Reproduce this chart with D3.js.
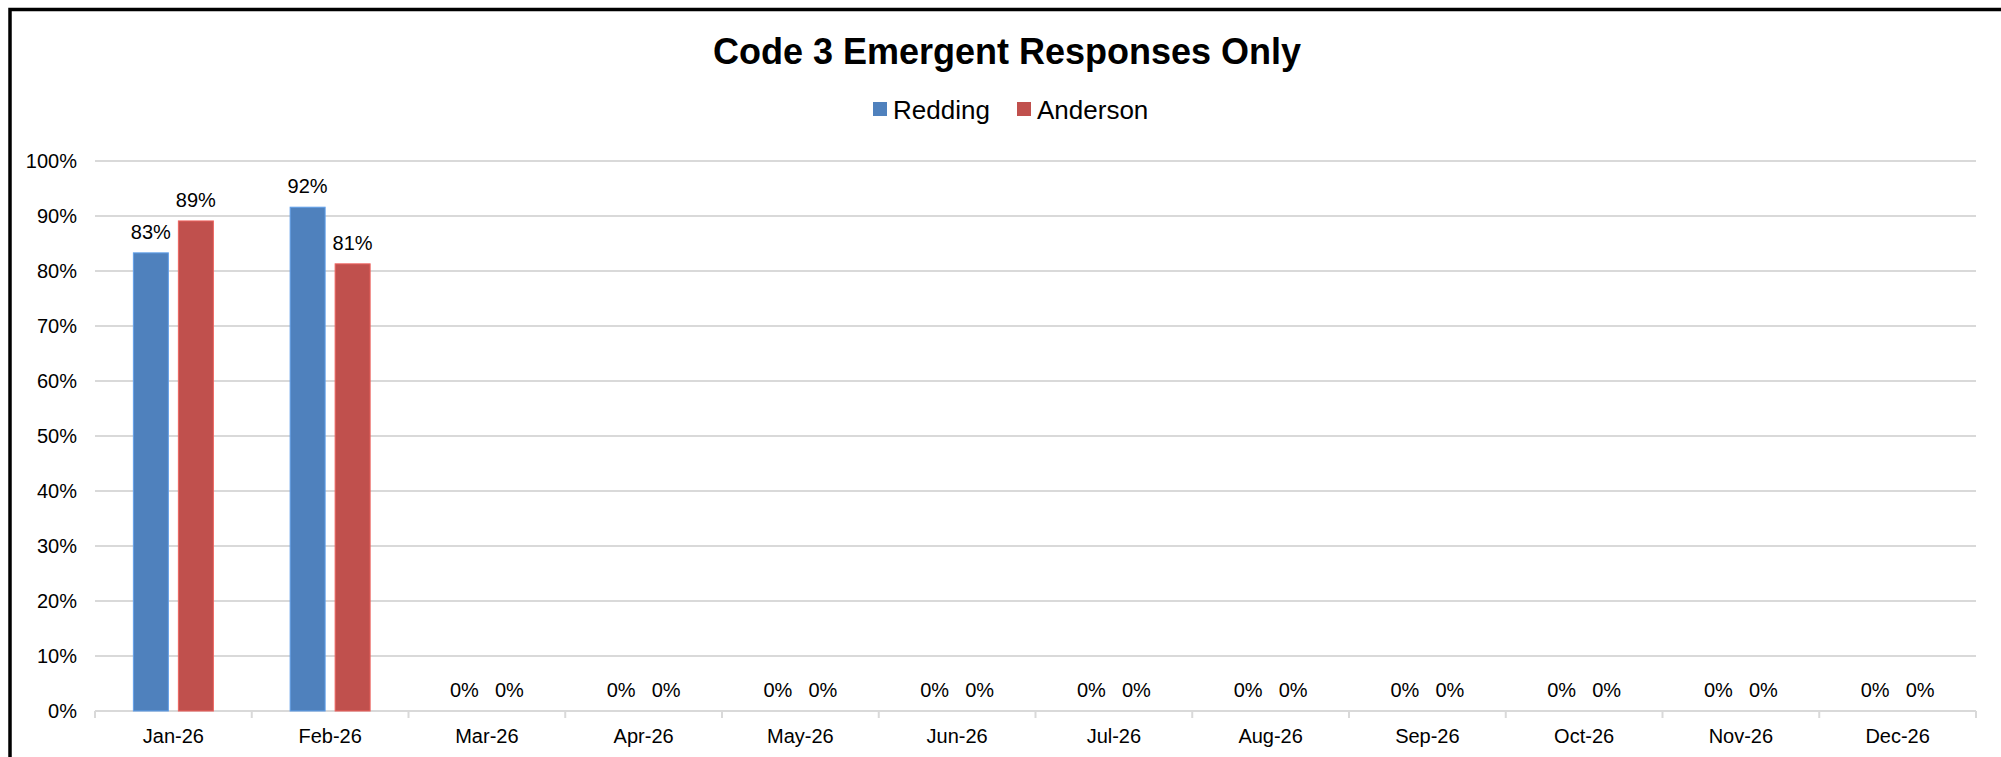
<!DOCTYPE html>
<html>
<head>
<meta charset="utf-8">
<script src="https://cdn.jsdelivr.net/npm/d3@7"></script>
<style>
  html, body { margin: 0; padding: 0; background: #fff; overflow: hidden; }
  text { font-family: "Liberation Sans", Arial, sans-serif; fill: #000; }
</style>
</head>
<body>
<div id="chart"></div>
<script>
const months = ['Jan-26', 'Feb-26', 'Mar-26', 'Apr-26', 'May-26', 'Jun-26',
  'Jul-26', 'Aug-26', 'Sep-26', 'Oct-26', 'Nov-26', 'Dec-26']
const seriesNames = ['Redding', 'Anderson']
const redding = [0.833, 0.916, 0, 0, 0, 0, 0, 0, 0, 0, 0, 0]
const anderson = [0.891, 0.813, 0, 0, 0, 0, 0, 0, 0, 0, 0, 0]
const yTicks = [0, 0.1, 0.2, 0.3, 0.4, 0.5, 0.6, 0.7, 0.8, 0.9, 1]
const colors = { Redding: '#4F81BD', Anderson: '#C0504D' }

const width = 2001
const height = 757

const svg = d3.select('#chart').append('svg')
  .attr('width', width)
  .attr('height', height)

// bordo esterno del grafico
svg.append('rect')
  .attr('x', 10).attr('y', 9.5)
  .attr('width', 3000).attr('height', 3000)
  .attr('fill', 'none')
  .attr('stroke', '#000')
  .attr('stroke-width', 3.5)

const x0 = d3.scaleBand().domain(months).range([95, 1976])
const x1 = d3.scaleBand().domain(seriesNames)
  .range([x0.bandwidth() / 2 - 40, x0.bandwidth() / 2 + 40])
  .paddingInner(10 / 45)
const y = d3.scaleLinear().domain([0, 1]).range([711, 161])

// gridlines
svg.append('g')
  .selectAll('line')
  .data(yTicks.filter(t => t > 0))
  .join('line')
  .attr('x1', 95).attr('x2', 1976)
  .attr('y1', d => y(d)).attr('y2', d => y(d))
  .attr('stroke', '#d9d9d9')
  .attr('stroke-width', 2)

// y labels
svg.append('g')
  .selectAll('text')
  .data(yTicks)
  .join('text')
  .attr('x', 77)
  .attr('y', d => y(d))
  .attr('text-anchor', 'end')
  .attr('dominant-baseline', 'central')
  .style('font-size', '20px')
  .text(d => d3.format('.0%')(d))

// x axis line + ticks at category boundaries
svg.append('line')
  .attr('x1', 95).attr('x2', 1976)
  .attr('y1', y(0)).attr('y2', y(0))
  .attr('stroke', '#d9d9d9')
  .attr('stroke-width', 2)

const bounds = months.map(m => x0(m)).concat([x0(months[months.length - 1]) + x0.bandwidth()])
svg.append('g')
  .selectAll('line')
  .data(bounds)
  .join('line')
  .attr('x1', d => d).attr('x2', d => d)
  .attr('y1', y(0)).attr('y2', y(0) + 7)
  .attr('stroke', '#d9d9d9')
  .attr('stroke-width', 2)

svg.append('g')
  .selectAll('text')
  .data(months)
  .join('text')
  .attr('x', d => x0(d) + x0.bandwidth() / 2)
  .attr('y', 743)
  .attr('text-anchor', 'middle')
  .style('font-size', '20px')
  .text(d => d)

// barre
const rows = months.map((m, i) => ({ month: m, values: [
  { name: 'Redding', value: redding[i] },
  { name: 'Anderson', value: anderson[i] }
] }))

const groups = svg.append('g')
  .selectAll('g')
  .data(rows)
  .join('g')
  .attr('transform', d => `translate(${x0(d.month)},0)`)

groups.selectAll('rect')
  .data(d => d.values.filter(v => v.value > 0))
  .join('rect')
  .attr('x', d => x1(d.name))
  .attr('y', d => y(d.value))
  .attr('width', x1.bandwidth())
  .attr('height', d => y(0) - y(d.value))
  .attr('fill', d => colors[d.name])
  .attr('stroke', d => d3.color(colors[d.name]).brighter(0.6))
  .attr('stroke-width', 1)

groups.selectAll('text')
  .data(d => d.values)
  .join('text')
  .attr('x', d => x1(d.name) + x1.bandwidth() / 2)
  .attr('y', d => y(d.value) - 14)
  .attr('text-anchor', 'middle')
  .style('font-size', '20px')
  .text(d => d3.format('.0%')(d.value))

// titolo
svg.append('text')
  .attr('x', 1007)
  .attr('y', 64)
  .attr('text-anchor', 'middle')
  .style('font-size', '36px')
  .style('font-weight', 'bold')
  .text('Code 3 Emergent Responses Only')

// legenda
const legendX = [873, 1017]
const legend = svg.append('g')
  .selectAll('g')
  .data(seriesNames)
  .join('g')
  .attr('transform', (d, i) => `translate(${legendX[i]},0)`)

legend.append('rect')
  .attr('x', 0).attr('y', 102)
  .attr('width', 14).attr('height', 14)
  .attr('fill', d => colors[d])

legend.append('text')
  .attr('x', 20)
  .attr('y', 119)
  .style('font-size', '26px')
  .text(d => d)
</script>
</body>
</html>
